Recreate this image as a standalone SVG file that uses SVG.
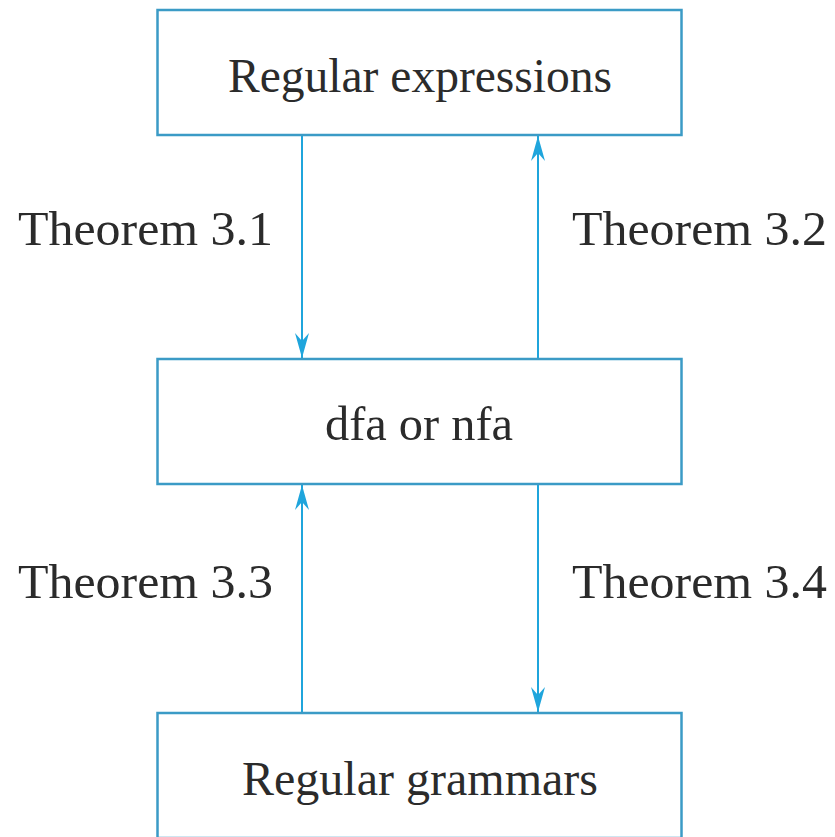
<svg xmlns="http://www.w3.org/2000/svg" width="835" height="837" viewBox="0 0 835 837">
  <defs>
    <marker id="head" markerUnits="userSpaceOnUse" markerWidth="30" markerHeight="20" viewBox="-26 -10 30 20" refX="0" refY="0" orient="auto">
      <path d="M0,0 L-25,-7 L-17,0 L-25,7 Z" fill="#1fa5dc"/>
    </marker>
  </defs>
  <style>
    .box { fill: #ffffff; stroke: #3b9bc6; stroke-width: 2.5; }
    .label { font-family: "Liberation Serif", "DejaVu Serif", serif; font-size: 48px; fill: #2b2b2b; }
    .mid { text-anchor: middle; }
    .edge { stroke: #1fa5dc; stroke-width: 2; fill: none; marker-end: url(#head); }
  </style>
  <rect width="835" height="837" fill="#ffffff"/>

  <g id="connectors">
    <line class="edge" x1="302" y1="136" x2="302" y2="358"/>
    <line class="edge" x1="538" y1="358" x2="538" y2="136"/>
    <line class="edge" x1="302" y1="712" x2="302" y2="485"/>
    <line class="edge" x1="538" y1="485" x2="538" y2="712"/>
    <text class="label" x="18" y="245" textLength="255" lengthAdjust="spacingAndGlyphs">Theorem 3.1</text>
    <text class="label" x="572" y="245" textLength="255" lengthAdjust="spacingAndGlyphs">Theorem 3.2</text>
    <text class="label" x="18" y="598" textLength="255" lengthAdjust="spacingAndGlyphs">Theorem 3.3</text>
    <text class="label" x="572" y="598" textLength="255" lengthAdjust="spacingAndGlyphs">Theorem 3.4</text>
  </g>

  <g id="regex">
    <rect class="box" x="157.5" y="10" width="524" height="125"/>
    <text class="label" x="228" y="92" textLength="384" lengthAdjust="spacingAndGlyphs">Regular expressions</text>
  </g>

  <g id="automata">
    <rect class="box" x="157.5" y="359" width="524" height="125"/>
    <text class="label" x="325" y="440" textLength="188" lengthAdjust="spacingAndGlyphs">dfa or nfa</text>
  </g>

  <g id="grammars">
    <rect class="box" x="157.5" y="713" width="524" height="125"/>
    <text class="label" x="242" y="795" textLength="356" lengthAdjust="spacingAndGlyphs">Regular grammars</text>
  </g>
</svg>
